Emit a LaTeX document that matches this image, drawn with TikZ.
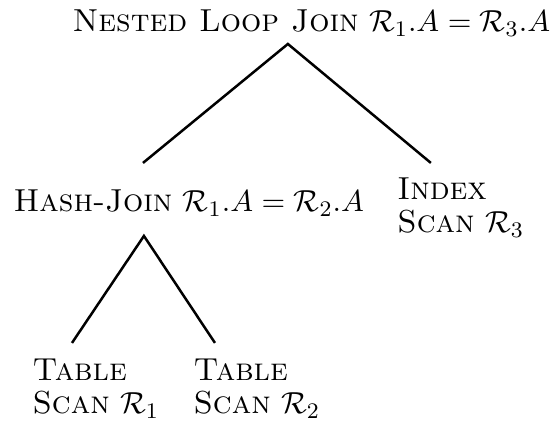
\documentclass[tikz,border=0pt]{standalone}
\usepackage{amsmath}
\usetikzlibrary{positioning}

\begin{document}
\begin{tikzpicture}[
    op/.style={inner sep=0pt, anchor=base west, align=left,
               font=\fontsize{11.45}{11.9}\selectfont},
    tree/.style={line width=0.9pt, color=black},
]
\useasboundingbox (0,0) rectangle (7.03,-5.36);

% ---------------- operators
\node[op] (nlj) at (0.910,-0.404) {\textsc{Nested Loop Join} $\mathcal{R}_1.A = \mathcal{R}_3.A$};
\node[op] (hj) at (0.164,-2.680) {\textsc{Hash-Join} $\mathcal{R}_1.A = \mathcal{R}_2.A$};
\node[op] (idx) at (5.018,-2.945) {\textsc{Index}\\\textsc{Scan} $\mathcal{R}_3$};
\node[op] (ts1) at (0.404,-5.233) {\textsc{Table}\\\textsc{Scan} $\mathcal{R}_1$};
\node[op] (ts2) at (2.440,-5.233) {\textsc{Table}\\\textsc{Scan} $\mathcal{R}_2$};

% ---------------- edge ends
\coordinate (nlj-s) at (3.640,-0.556);
\coordinate (hj-n)  at (1.808,-2.060);
\coordinate (idx-n) at (5.448,-2.060);
\coordinate (hj-s)  at (1.820,-2.983);
\coordinate (ts1-n) at (0.910,-4.336);
\coordinate (ts2-n) at (2.718,-4.336);

\draw[tree] (hj-n) -- (nlj-s) -- (idx-n);
\draw[tree] (ts1-n) -- (hj-s) -- (ts2-n);
\end{tikzpicture}
\end{document}
